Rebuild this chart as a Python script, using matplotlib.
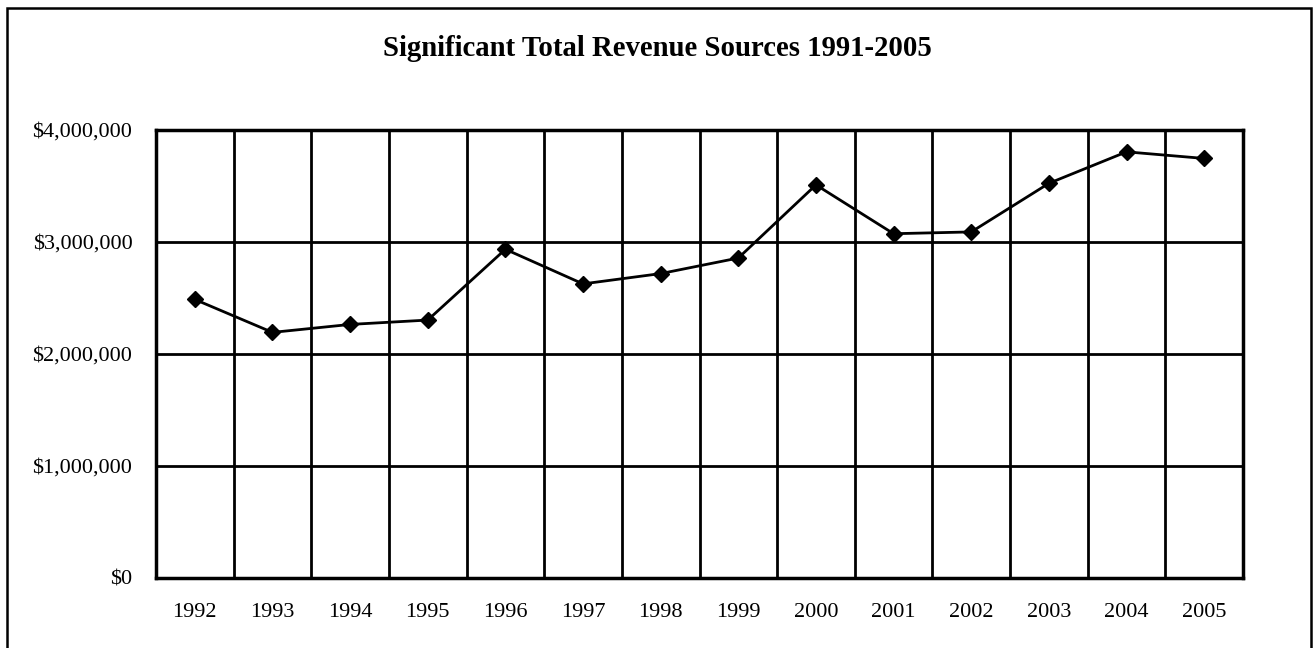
import matplotlib
matplotlib.use("Agg")
import matplotlib.pyplot as plt
from matplotlib.ticker import FuncFormatter, FixedLocator
from matplotlib.patches import Rectangle
import numpy as np

years = ["1992", "1993", "1994", "1995", "1996", "1997", "1998", "1999",
         "2000", "2001", "2002", "2003", "2004", "2005"]
revenue = [2487000, 2193000, 2264000, 2303000, 2935000, 2626000, 2718000,
           2857000, 3510000, 3074000, 3090000, 3524000, 3805000, 3746000]
title = "Significant Total Revenue Sources 1991-2005"

plt.rcParams['font.family'] = ['Liberation Serif', 'DejaVu Serif']

W, H = 1313, 648
fig = plt.figure(figsize=(W / 100, H / 100), dpi=100)
fig.patch.set_facecolor('white')

# outer border (bottom edge falls outside the canvas, as in the reference)
fig.patches.append(Rectangle((6.5 / W, -10 / H), (1311 - 6.5) / W, (H - 8 + 10) / H,
                             transform=fig.transFigure, fill=False,
                             edgecolor='black', linewidth=1.8))

left, right, top, bottom = 156, 1243, 130, 578
ax = fig.add_axes([left / W, 1 - bottom / H, (right - left) / W, (bottom - top) / H])

x = np.arange(len(years))
ax.plot(x, revenue, color='black', linewidth=2, marker='D', markersize=8.5,
        zorder=5, clip_on=False)

ax.set_xlim(-0.5, len(years) - 0.5)
ax.set_ylim(0, 4000000)
ax.set_xticks(x)
ax.set_xticklabels(years)
ax.set_yticks([0, 1000000, 2000000, 3000000, 4000000])
ax.yaxis.set_major_formatter(FuncFormatter(lambda v, p: "${:,.0f}".format(v)))
ax.xaxis.set_minor_locator(FixedLocator(np.arange(0.5, len(years) - 0.5, 1)))
ax.grid(True, which='minor', axis='x', color='black', linewidth=2)
ax.grid(True, which='major', axis='y', color='black', linewidth=2)
ax.tick_params(which='both', length=0)
ax.tick_params(axis='y', pad=17, labelsize=16)
ax.tick_params(axis='x', pad=18, labelsize=16)
for s in ax.spines.values():
    s.set_linewidth(2.5)
    s.set_color('black')

fig.text(657 / W, 1 - 48 / H, title, ha='center', va='center',
         fontsize=20.7, fontweight='bold')

fig.savefig("out.png", dpi=100)
